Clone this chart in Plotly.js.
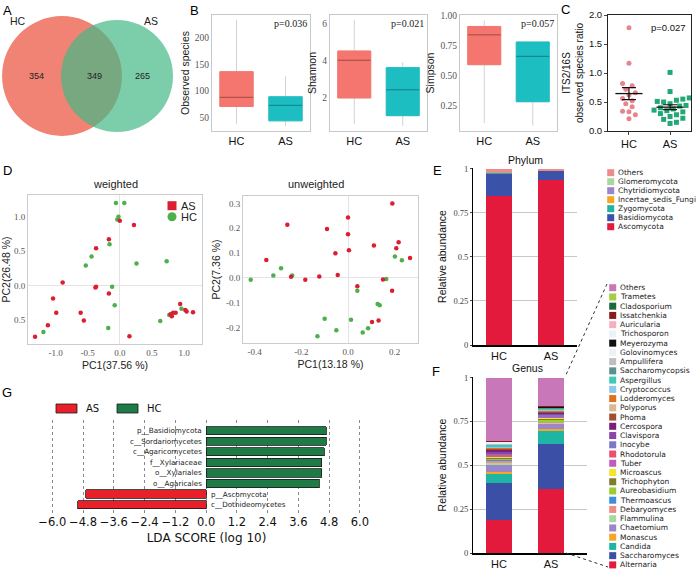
<!DOCTYPE html>
<html>
<head>
<meta charset="utf-8">
<script src="https://cdn.plot.ly/plotly-3.0.1.min.js"></script>
<style>
html, body { margin: 0; padding: 0; background: #fff; }
#chart { width: 696px; height: 571px; }
</style>
</head>
<body>
<div id="chart"></div>
<script>
// ---------- data ----------
// A: Venn
var vennNames = ['HC', 'AS'];
var vennOnly = [354, 265];
var vennShared = 349;

// B: alpha diversity, [lower whisker, Q1, median, Q3, upper whisker]
var alphaGroups = ['HC', 'AS'];
var observedHC = [38, 71, 88, 136, 233];
var observedAS = [34, 44, 73, 89, 127];
var shannonHC = [0.55, 1.96, 4.0, 4.5, 6.2];
var shannonAS = [0.45, 1.0, 2.4, 3.6, 3.9];
var simpsonHC = [0.10, 0.59, 0.84, 0.91, 0.96];
var simpsonAS = [0.08, 0.28, 0.66, 0.78, 0.78];
var alphaP = ['p=0.036', 'p=0.021', 'p=0.057'];

// C: ITS2/16S observed species ratio
var ratioHC = [1.78, 1.17, 0.82, 0.78, 0.72, 0.66, 0.62, 0.56, 0.52, 0.47, 0.42, 0.34, 0.33, 0.28, 0.21];
var ratioAS = [1.01, 0.68, 0.57, 0.55, 0.53, 0.51, 0.50, 0.47, 0.44, 0.43, 0.40, 0.38, 0.36, 0.35, 0.33, 0.30, 0.28, 0.25, 0.22, 0.20, 0.15, 0.13];
var ratioP = 'p=0.027';

// D: PCoA
var pcoaGroups = ['AS', 'HC'];
var wHCx = [-0.06, 0.07, -0.02, -0.04, -0.16, -0.44, -0.53, 0.26, 0.73, -0.12, -0.08, 0.96, 0.77, 0.63, -0.18, -1.19];
var wHCy = [1.20, 1.20, 1.00, 0.96, 0.60, 0.42, 0.29, 0.32, 0.35, -0.02, -0.29, -0.34, -0.43, -0.52, -0.62, -0.68];
var wASx = [0.00, 0.22, -0.17, -0.37, -0.37, -0.38, -0.17, -0.89, -1.04, -0.99, -1.12, -1.32, -0.61, -0.56, 0.15, 0.94, 0.79, 0.83, 0.81, 0.87, 1.02, 1.04, 1.14];
var wASy = [0.94, 0.88, 0.67, 0.54, -0.02, -0.03, -0.12, 0.04, -0.19, -0.40, -0.58, -0.75, -0.40, -0.51, -0.74, -0.27, -0.42, -0.40, -0.45, -0.40, -0.36, -0.38, -0.39];
var uHCx = [-0.417, -0.32, -0.287, -0.239, 0.04, 0.164, 0.127, 0.136, -0.10, 0.013, -0.05, -0.131, 0.063, 0.086, 0.201, 0.231];
var uHCy = [-0.008, 0.009, 0.039, 0.009, -0.052, -0.005, -0.106, -0.111, -0.165, -0.169, -0.212, -0.236, -0.221, -0.204, 0.086, 0.071];
var uASx = [0.19, 0.0, -0.26, -0.09, 0.0, -0.35, -0.054, 0.004, 0.111, 0.217, 0.207, 0.266, -0.244, -0.183, -0.123, -0.044, 0.04, 0.15, 0.189, 0.103, 0.131];
var uASy = [0.30, 0.243, 0.214, 0.197, 0.176, 0.072, 0.099, 0.111, 0.13, 0.143, 0.119, 0.080, 0.004, -0.008, 0.005, 0.011, -0.034, -0.007, -0.052, -0.178, -0.172];
var wXticks = [-1, -0.5, 0, 0.5, 1], wXlabels = ['-1.0', '-0.5', '0.0', '0.5', '1.0'];
var wYticks = [-0.5, 0, 0.5, 1], wYlabels = ['0.5', '0.0', '0.5', '1.0'];
var uXticks = [-0.4, -0.2, 0, 0.2], uXlabels = ['-0.4', '-0.2', '0.0', '0.2'];
var uYticks = [-0.2, -0.1, 0, 0.1, 0.2, 0.3], uYlabels = ['-0.2', '-0.1', '0.0', '0.1', '0.2', '0.3'];

// E/F: composition (bottom to top)
var stackGroups = ['HC', 'AS'];
var abundTicks = [0, 0.25, 0.5, 0.75, 1], abundLabels = ['0', '0.25', '0.5', '0.75', '1'];
var phylumNames = ['Ascomycota', 'Basidiomycota', 'Zygomycota', 'Incertae_sedis_Fungi', 'Chytridiomycota', 'Glomeromycota', 'Others'];
var phylumHC = [0.843, 0.127, 0.004, 0.001, 0.001, 0.001, 0.023];
var phylumAS = [0.934, 0.052, 0.001, 0.0005, 0.0005, 0.0005, 0.0115];
var phylumColors = ['#E31A3C', '#3A52A8', '#1FB5A5', '#F5A623', '#9B86C8', '#A8D8A0', '#EE8A8A'];

var genusNames = ['Alternaria', 'Saccharomyces', 'Candida', 'Monascus', 'Chaetomium', 'Flammulina', 'Debaryomyces',
  'Thermoascus', 'Aureobasidium', 'Trichophyton', 'Microascus', 'Tuber', 'Rhodotorula', 'Inocybe', 'Clavispora',
  'Cercospora', 'Phoma', 'Polyporus', 'Lodderomyces', 'Cryptococcus', 'Aspergillus', 'Saccharomycopsis', 'Ampullifera',
  'Golovinomyces', 'Meyerozyma', 'Trichosporon', 'Auricularia', 'Issatchenkia', 'Cladosporium', 'Trametes', 'Others'];
var genusHC = [0.19, 0.21, 0.05, 0.014, 0.038, 0.012, 0.008, 0.010, 0.006, 0.004, 0.006, 0.005, 0.003, 0.010, 0.012,
  0.010, 0.004, 0.003, 0.003, 0.008, 0.008, 0.004, 0.004, 0.003, 0.002, 0.004, 0.002, 0.004, 0.001, 0.002, 0.36];
var genusAS = [0.364, 0.257, 0.072, 0.015, 0.030, 0.004, 0.004, 0.003, 0.010, 0.006, 0.003, 0.005, 0.003, 0.008, 0.008,
  0.006, 0.005, 0.003, 0.003, 0.006, 0.005, 0.004, 0.003, 0.002, 0.001, 0.002, 0.001, 0.002, 0.001, 0.001, 0.163];
var genusColors = ['#E31A3C', '#3A4FA5', '#1FB5A5', '#F5A623', '#9B86C8', '#A8D8A0', '#F08C84', '#3E8EDB', '#9ACD32',
  '#7D7D2E', '#F5E52A', '#C05CC0', '#E8506E', '#7B77C8', '#8A44AA', '#7B1F7B', '#A05030', '#D8B896', '#E07020',
  '#8CC8E8', '#40C8B8', '#5A9090', '#BEBEBE', '#EEF0F8', '#111111', '#EAF2FA', '#F4B0C0', '#8B1A1A', '#1A6A3A',
  '#A0D040', '#C878B8'];

// G: LEfSe
var ldaTaxa = ['p__Basidiomycota', 'c__Sordariomycetes', 'c__Agaricomycetes', 'f__Xylariaceae', 'o__Xylariales', 'o__Agaricales', 'p__Ascomycota', 'c__Dothideomycetes'];
var ldaScores = [4.68, 4.69, 4.61, 4.51, 4.51, 4.42, -4.69, -5.01];
var ldaGroup = ['HC', 'HC', 'HC', 'HC', 'HC', 'HC', 'AS', 'AS'];
var ldaTicks = [-6.0, -4.8, -3.6, -2.4, -1.2, 0.0, 1.2, 2.4, 3.6, 4.8, 6.0];

// ---------- helpers ----------
var W = 696, H = 571;
var SANS = 'Liberation Sans, Arial, sans-serif';
var SERIF = 'Liberation Serif, Times New Roman, serif';
var DJV = 'DejaVu Sans, sans-serif';
function xd(a, b) { return [a / W, b / W]; }
function yd(top, bottom) { return [1 - bottom / H, 1 - top / H]; }
function px(x) { return x / W; }
function py(y) { return 1 - y / H; }

var data = [];
var shapes = [];
var annotations = [];
var layout = {
	width: W, height: H,
	margin: {l: 0, r: 0, t: 0, b: 0, autoexpand: false},
	paper_bgcolor: '#fff',
	plot_bgcolor: 'rgba(0,0,0,0)',
	showlegend: false,
	barmode: 'stack',
	font: {family: SANS, size: 10, color: '#000'}
};

function label(x, y, text, font, xa, ya) {
	annotations.push({xref: 'paper', yref: 'paper', x: px(x), y: py(y), text: text, showarrow: false,
		xanchor: xa || 'center', yanchor: ya || 'middle', font: font});
}
function paperShape(type, x0, y0, x1, y1, fill, line) {
	shapes.push({type: type, xref: 'paper', yref: 'paper', x0: px(x0), x1: px(x1), y0: py(y1), y1: py(y0),
		fillcolor: fill, line: line || {width: 0}});
}

// ---------- A: Venn ----------
var vennTotals = [vennOnly[0] + vennShared, vennOnly[1] + vennShared];
var vennR = vennTotals.map(function (t) { return 2.26 * Math.sqrt(t); });
var vennCx = [62, 117], vennCy = 76;
var vennFill = ['#F08373', 'rgba(69,184,134,0.7)'];
vennR.forEach(function (r, i) {
	paperShape('circle', vennCx[i] - r, vennCy - r, vennCx[i] + r, vennCy + r, vennFill[i]);
});
var vennFont = {family: SANS, size: 9, color: '#222'};
label(vennCx[0] - vennR[0] * 0.42, vennCy, String(vennOnly[0]), vennFont);
label((vennCx[1] - vennR[1] + vennCx[0] + vennR[0]) / 2 + 3, vennCy, String(vennShared), vennFont);
label(vennCx[1] + vennR[1] * 0.45, vennCy, String(vennOnly[1]), vennFont);
label(vennCx[0] - vennR[0] * 0.73, vennCy - 55, vennNames[0], {family: SANS, size: 10.5, color: '#222'});
label(vennCx[1] + vennR[1] * 0.6, vennCy - 55, vennNames[1], {family: SANS, size: 10.5, color: '#222'});

// ---------- B: boxes ----------
var boxFill = ['#F5766E', '#1CBEC2'], boxMedian = ['#9E4A45', '#137F82'];
function boxPanel(k, stats, range, tickvals, fmt, title, left, right, pText) {
	var ax = 'x' + k, ay = 'y' + k;
	stats.forEach(function (s, g) {
		data.push({type: 'box', xaxis: ax, yaxis: ay, x: [g], lowerfence: [s[0]], q1: [s[1]], median: [s[2]], q3: [s[3]], upperfence: [s[4]],
			width: 0.68, whiskerwidth: 0, line: {color: '#D2D2D2', width: 1}, fillcolor: 'rgba(0,0,0,0)', hoverinfo: 'skip'});
		data.push({type: 'box', xaxis: ax, yaxis: ay, x: [g], lowerfence: [s[1]], q1: [s[1]], median: [s[2]], q3: [s[3]], upperfence: [s[3]],
			width: 0.68, whiskerwidth: 0, line: {color: boxFill[g], width: 1}, fillcolor: boxFill[g], hoverinfo: 'skip'});
		data.push({type: 'scatter', mode: 'lines', xaxis: ax, yaxis: ay, x: [g - 0.34, g + 0.34], y: [s[2], s[2]],
			line: {color: boxMedian[g], width: 1}, hoverinfo: 'skip'});
	});
	layout['xaxis' + k] = {domain: xd(left, right), anchor: ay, range: [-0.5, 1.5], tickvals: [0, 1], ticktext: alphaGroups,
		showline: true, mirror: true, linecolor: '#C8C8C8', showgrid: false, zeroline: false, ticks: '',
		tickfont: {family: SANS, size: 11, color: '#111'}};
	layout['yaxis' + k] = {domain: yd(15, 131), anchor: ax, range: range, tickvals: tickvals, tickformat: fmt,
		showline: true, mirror: true, linecolor: '#C8C8C8', showgrid: false, zeroline: false, ticks: '',
		tickfont: {family: SERIF, size: 9.5, color: '#555'},
		title: {text: title, font: {family: SANS, size: 10.5, color: '#222'}, standoff: 3}};
	annotations.push({xref: ax + ' domain', yref: ay + ' domain', x: 0.99, y: 0.995, xanchor: 'right', yanchor: 'top',
		text: pText, showarrow: false, font: {family: SERIF, size: 10, color: '#222'}});
}
boxPanel(2, [observedHC, observedAS], [25, 242], [50, 100, 150, 200], 'd', 'Observed species', 212, 310, alphaP[0]);
boxPanel(3, [shannonHC, shannonAS], [0.17, 6.45], [2, 4, 6], 'd', 'Shannon', 330, 427, alphaP[1]);
boxPanel(4, [simpsonHC, simpsonAS], [0.035, 1.006], [0.25, 0.5, 0.75, 1.0], '.2f', 'Simpson', 460, 557, alphaP[2]);

// ---------- C: ratio dot plot ----------
function swarm(vals, pxX, pxY, d) {
	var placed = [];
	var xs = vals.map(function () { return 0; });
	var order = vals.map(function (v, i) { return i; }).sort(function (a, b) { return vals[a] - vals[b]; });
	var offs = [0];
	for (var k = 1; k < 30; k++) { offs.push(k * d * 0.55, -k * d * 0.55); }
	order.forEach(function (i) {
		var yPx = vals[i] * pxY;
		for (var j = 0; j < offs.length; j++) {
			var ok = placed.every(function (p) {
				var dx = p[0] - offs[j], dy = p[1] - yPx;
				return dx * dx + dy * dy >= d * d;
			});
			if (ok) { placed.push([offs[j], yPx]); xs[i] = offs[j] / pxX; break; }
		}
	});
	return xs;
}
function meanSem(a) {
	var m = a.reduce(function (s, v) { return s + v; }, 0) / a.length;
	var sd = Math.sqrt(a.reduce(function (s, v) { return s + (v - m) * (v - m); }, 0) / (a.length - 1));
	return [m, sd / Math.sqrt(a.length)];
}
var ratioSets = [ratioHC, ratioAS];
var ratioColors = ['#E8848F', '#22A874'], ratioSymbols = ['circle', 'square'];
ratioSets.forEach(function (vals, g) {
	var off = swarm(vals, 41, 58, 5.8);
	data.push({type: 'scatter', mode: 'markers', xaxis: 'x5', yaxis: 'y5', hoverinfo: 'skip',
		x: off.map(function (o) { return g + o; }), y: vals,
		marker: {symbol: ratioSymbols[g], size: 5, color: ratioColors[g]}});
	var ms = meanSem(vals);
	data.push({type: 'scatter', mode: 'lines', xaxis: 'x5', yaxis: 'y5', hoverinfo: 'skip',
		x: [g - 0.33, g + 0.33], y: [ms[0], ms[0]], line: {color: '#111', width: 1.3}});
	data.push({type: 'scatter', mode: 'markers', xaxis: 'x5', yaxis: 'y5', hoverinfo: 'skip',
		x: [g], y: [ms[0]], marker: {size: 1, opacity: 0},
		error_y: {type: 'data', array: [ms[1]], color: '#111', thickness: 1.2, width: 7}});
});
layout.xaxis5 = {domain: xd(608, 691), anchor: 'y5', range: [-0.51, 1.51], tickvals: [0, 1], ticktext: alphaGroups,
	showline: true, mirror: true, linecolor: '#222', showgrid: false, zeroline: false, ticks: 'outside', ticklen: 3,
	tickfont: {family: SANS, size: 11, color: '#111'}};
layout.yaxis5 = {domain: yd(15, 131), anchor: 'x5', range: [0, 2], dtick: 0.5, tickformat: '.1f',
	showline: true, mirror: true, linecolor: '#222', showgrid: false, zeroline: false, ticks: 'outside', ticklen: 3,
	tickfont: {family: SANS, size: 9.5, color: '#111'},
	title: {text: 'ITS2/16S<br>observed species ratio', font: {family: SANS, size: 10, color: '#111'}, standoff: 3}};
annotations.push({xref: 'x5 domain', yref: 'y5 domain', x: 0.96, y: 0.96, xanchor: 'right', yanchor: 'top',
	text: ratioP, showarrow: false, font: {family: SANS, size: 9.5, color: '#111'}});

// ---------- D: PCoA ----------
var pcoaColors = {AS: '#DC1E32', HC: '#4DB04A'};
function pcoaPanel(k, hx, hy, sx, sy, xr, yr, xt, xl, yt, yl, xTitle, yTitle, l, r, t, b) {
	var ax = 'x' + k, ay = 'y' + k;
	data.push({type: 'scatter', mode: 'markers', xaxis: ax, yaxis: ay, x: hx, y: hy, hoverinfo: 'skip',
		marker: {size: 4.5, color: pcoaColors.HC}});
	data.push({type: 'scatter', mode: 'markers', xaxis: ax, yaxis: ay, x: sx, y: sy, hoverinfo: 'skip',
		marker: {size: 4.5, color: pcoaColors.AS}});
	layout['xaxis' + k] = {domain: xd(l, r), anchor: ay, range: xr, tickvals: xt, ticktext: xl,
		showline: true, mirror: true, linecolor: '#CCCCCC', showgrid: false, zeroline: true, zerolinecolor: '#E4E4E4', zerolinewidth: 1,
		ticks: '', tickfont: {family: SERIF, size: 9, color: '#555'},
		title: {text: xTitle, font: {family: SANS, size: 10.5, color: '#222'}, standoff: 4}};
	layout['yaxis' + k] = {domain: yd(t, b), anchor: ax, range: yr, tickvals: yt, ticktext: yl,
		showline: true, mirror: true, linecolor: '#CCCCCC', showgrid: false, zeroline: true, zerolinecolor: '#E4E4E4', zerolinewidth: 1,
		ticks: '', tickfont: {family: SERIF, size: 9, color: '#555'},
		title: {text: yTitle, font: {family: SANS, size: 10.5, color: '#222'}, standoff: 3}};
}
pcoaPanel(6, wHCx, wHCy, wASx, wASy, [-1.43, 1.28], [-0.854, 1.316], wXticks, wXlabels, wYticks, wYlabels,
	'PC1(37.56 %)', 'PC2(26.48 %)', 28, 202, 195, 344);
pcoaPanel(7, uHCx, uHCy, uASx, uASy, [-0.45, 0.30], [-0.263, 0.33], uXticks, uXlabels, uYticks, uYlabels,
	'PC1(13.18 %)', 'PC2(7.36 %)', 243, 418, 196, 343);
label(115, 184, 'weighted', {family: SANS, size: 11, color: '#222'});
label(316, 184, 'unweighted', {family: SANS, size: 11, color: '#222'});
// D legend
pcoaGroups.forEach(function (g, i) {
	var yc = 205.7 + 11 * i;
	paperShape(i === 0 ? 'rect' : 'circle', 167.5, yc - 4.5, 176.5, yc + 4.5, pcoaColors[g]);
	label(179, yc, g, {family: SANS, size: 11, color: '#222'}, 'left', 'middle');
});

// ---------- E/F: stacked composition ----------
function stackPanel(k, names, hc, as, colors, l, r, t, b, xr) {
	var ax = 'x' + k, ay = 'y' + k;
	names.forEach(function (n, j) {
		data.push({type: 'bar', xaxis: ax, yaxis: ay, x: [0, 1], y: [hc[j], as[j]], width: 0.5, hoverinfo: 'skip',
			marker: {color: colors[j], line: {width: 0}}});
	});
	layout['xaxis' + k] = {domain: xd(l, r), anchor: ay, range: xr, tickvals: [0, 1], ticktext: stackGroups,
		showline: true, linecolor: '#000', linewidth: 1.5, showgrid: false, zeroline: false, ticks: '',
		tickfont: {family: SANS, size: 11, color: '#111'}};
	layout['yaxis' + k] = {domain: yd(t, b), anchor: ax, range: [0, 1.003], tickvals: abundTicks, ticktext: abundLabels,
		showline: true, linecolor: '#000', linewidth: 1, showgrid: true, gridcolor: '#C8C8C8', zeroline: false,
		ticks: 'outside', ticklen: 2, tickfont: {family: SERIF, size: 8.5, color: '#444'},
		title: {text: 'Relative abundance', font: {family: SANS, size: 10.5, color: '#111'}, standoff: 4}};
}
stackPanel(8, phylumNames, phylumHC, phylumAS, phylumColors, 473, 577, 168, 345, [-0.5, 1.5]);
stackPanel(9, genusNames, genusHC, genusAS, genusColors, 473, 587, 377, 553, [-0.5, 1.69]);
label(525, 160, 'Phylum', {family: SANS, size: 10.5, color: '#111'});
label(527, 368, 'Genus', {family: SANS, size: 10.5, color: '#111'});

function swatchLegend(names, colors, xc, yTop, step) {
	var n = names.length;
	names.forEach(function (nm, j) {
		var yc = yTop + step * (n - 1 - j);
		paperShape('rect', xc - 3.5, yc - 3.5, xc + 3.5, yc + 3.5, colors[j]);
		label(xc + 5, yc, nm, {family: DJV, size: 7.5, color: '#222'}, 'left', 'middle');
	});
}
swatchLegend(phylumNames, phylumColors, 610.7, 172.7, 9);
swatchLegend(genusNames, genusColors, 612.7, 287.7, 9.24);

shapes.push({type: 'line', xref: 'paper', yref: 'paper', x0: px(607), y0: py(284), x1: px(565), y1: py(377),
	line: {color: '#333', width: 1, dash: 'dot'}});
shapes.push({type: 'line', xref: 'paper', yref: 'paper', x0: px(566), y0: py(553), x1: px(608), y1: py(567),
	line: {color: '#333', width: 1, dash: 'dot'}});

// ---------- G: LDA ----------
var ldaColors = {AS: '#E8202A', HC: '#1E7B45'};
['AS', 'HC'].forEach(function (g) {
	var ys = [], xs = [];
	ldaTaxa.forEach(function (t, i) { if (ldaGroup[i] === g) { ys.push(t); xs.push(ldaScores[i]); } });
	data.push({type: 'bar', orientation: 'h', xaxis: 'x10', yaxis: 'y10', x: xs, y: ys, width: 0.78, hoverinfo: 'skip',
		marker: {color: ldaColors[g], line: {color: '#1a1a1a', width: 0.8}}});
});
ldaTaxa.forEach(function (t, i) {
	var pos = ldaScores[i] > 0;
	annotations.push({xref: 'x10', yref: 'y10', x: 0, y: t, text: t, showarrow: false,
		xanchor: pos ? 'right' : 'left', yanchor: 'middle', xshift: pos ? -2 : 3,
		font: {family: DJV, size: 7.2, color: '#222'}});
});
layout.xaxis10 = {domain: xd(40, 373), anchor: 'y10', range: [-6.48, 6.51], tickvals: ldaTicks, tickformat: '.1f',
	showgrid: true, gridcolor: '#8A8A8A', griddash: 'dot', gridwidth: 1, zeroline: false, showline: false, ticks: '',
	tickfont: {family: DJV, size: 11.5, color: '#111'},
	title: {text: 'LDA SCORE (log 10)', font: {family: DJV, size: 12, color: '#111'}, standoff: 6}};
layout.yaxis10 = {domain: yd(420, 513), anchor: 'x10', type: 'category', categoryorder: 'array',
	categoryarray: ldaTaxa.slice().reverse(), range: [-0.79, 8.01], visible: false};
var legG = [['AS', 56], ['HC', 117]];
legG.forEach(function (it) {
	paperShape('rect', it[1], 404, it[1] + 21, 413, ldaColors[it[0]], {color: '#1a1a1a', width: 0.8});
	label(it[1] + 28, 408.5, it[0], {family: DJV, size: 10, color: '#111'}, 'left', 'middle');
});

// ---------- panel letters ----------
var panelLetters = [['A', 1, 1], ['B', 188, 1], ['C', 559, 0], ['D', 1, 161], ['E', 431, 161], ['F', 430, 362], ['G', 0, 383]];
panelLetters.forEach(function (p) {
	label(p[1], p[2], p[0], {family: SANS, size: 13, color: '#000'}, 'left', 'top');
});

layout.shapes = shapes;
layout.annotations = annotations;

Plotly.newPlot('chart', data, layout, {displayModeBar: false, staticPlot: true});
</script>
</body>
</html>
